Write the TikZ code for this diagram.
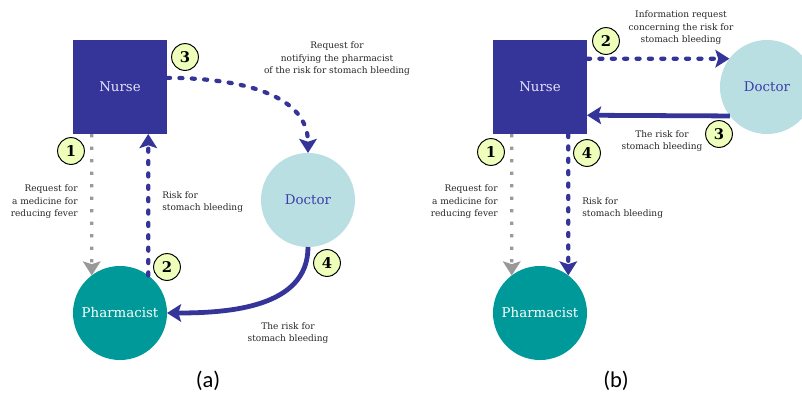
\documentclass[tikz,border=0pt]{standalone}
\usepackage{fontspec}
\setmainfont{DejaVu Serif}
\newfontfamily\capfont{Carlito}
\usetikzlibrary{arrows.meta}

\definecolor{nurseblue}{RGB}{52,52,153}
\definecolor{doctorblue}{RGB}{185,223,227}
\definecolor{pharmteal}{RGB}{0,153,153}
\definecolor{badgegreen}{RGB}{238,255,187}
\definecolor{flowgray}{RGB}{153,153,153}
\definecolor{doctortext}{RGB}{61,61,170}
\definecolor{nursetext}{RGB}{228,228,250}

\tikzset{
  actor/.style={minimum size=2.35cm,inner sep=0pt,outer sep=0pt,font=\fontsize{9.5}{11}\selectfont},
  nurse/.style={actor,shape=rectangle,fill=nurseblue,text=nursetext},
  doctor/.style={actor,shape=circle,fill=doctorblue,text=doctortext},
  pharmacist/.style={actor,shape=circle,fill=pharmteal,text=white},
  badge/.style={shape=circle,draw=black,line width=0.7pt,fill=badgegreen,minimum size=0.67cm,inner sep=0pt,font=\bfseries\fontsize{10.5}{12}\selectfont},
  note/.style={inner sep=0pt,font=\fontsize{6.4}{8.9}\selectfont,text=black!85},
  caption/.style={inner sep=0pt,font=\capfont\fontsize{16}{18}\selectfont},
  tip/.style={-{Stealth[length=10pt,width=12.5pt,inset=2pt]}},
  request/.style={tip,draw=flowgray,line width=2.3pt,dash pattern=on 2.3pt off 6.6pt},
  info/.style={tip,draw=nurseblue,line width=3pt,line cap=round,dash pattern=on 2.2pt off 6.6pt},
  reply/.style={tip,draw=nurseblue,line width=3.4pt}
}

\begin{document}
\begin{tikzpicture}[x=0.025cm,y=-0.025cm]
    \clip (0,0) rectangle (802,403);

    % (a)
    \node[nurse] (nurseA) at (120,87) {Nurse};
    \node[doctor] (docA) at (308,200) {Doctor};
    \node[pharmacist] (pharmA) at (120,313) {Pharmacist};

    \path (nurseA.-121) edge[request] (pharmA.127);
    \path (pharmA.53) edge[info] (nurseA.-59);
    \path (nurseA.11) edge[info,out=0,in=90] (docA.north);
    \path (docA.south) edge[reply,out=-90,in=0] (pharmA.east);

    \node[badge] (oneA) at (71,151) {1};
    \node[badge] (twoA) at (167,267) {2};
    \node[badge] (threeA) at (185,57) {3};
    \node[badge] (fourA) at (327,263) {4};

    \node[note,anchor=east,align=right] (reqA) at (78,202) {Request for\\a medicine for\\reducing fever};
    \node[note,anchor=west,align=left] (riskA) at (162,202) {Risk for\\stomach bleeding};
    \node[note,align=center] (notifyA) at (337,59) {Request for\\notifying the pharmacist\\of the risk for stomach bleeding};
    \node[note,align=center] (replyA) at (288,333) {The risk for\\stomach bleeding};
    \node[caption] (capA) at (208,381) {(a)};

    % (b)
    \node[nurse] (nurseB) at (540,87) {Nurse};
    \node[doctor] (docB) at (767,87) {Doctor};
    \node[pharmacist] (pharmB) at (540,313) {Pharmacist};

    \path (nurseB.-121) edge[request] (pharmB.127);
    \path (nurseB.-59) edge[info] (pharmB.53);
    \path (nurseB.31) edge[info] (docB.143);
    \path (docB.-142) edge[reply] (nurseB.-31);

    \node[badge] (oneB) at (491,152) {1};
    \node[badge] (twoB) at (606,41) {2};
    \node[badge] (threeB) at (719,134) {3};
    \node[badge] (fourB) at (587,153) {4};

    \node[note,anchor=east,align=right] (reqB) at (498,202) {Request for\\a medicine for\\reducing fever};
    \node[note,anchor=west,align=left] (riskB) at (582,208) {Risk for\\stomach bleeding};
    \node[note,align=center] (askB) at (681,28) {Information request\\concerning the risk for\\stomach bleeding};
    \node[note,align=center] (replyB) at (662,141) {The risk for\\stomach bleeding};
    \node[caption] (capB) at (616,381) {(b)};
\end{tikzpicture}
\end{document}
